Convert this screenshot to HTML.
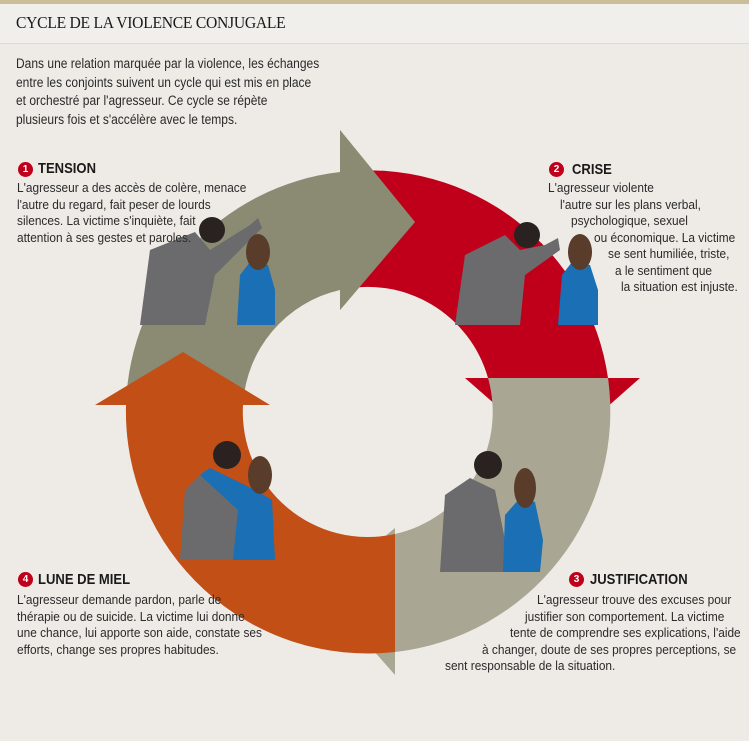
<!DOCTYPE html>
<html><head><meta charset="utf-8"><style>
body{margin:0;width:749px;height:741px;background:#eeebe6;position:relative;overflow:hidden;font-family:"Liberation Sans",sans-serif;color:#2a2a2a}
.t{position:absolute;white-space:nowrap;font-size:12.5px;line-height:16.5px;transform:scaleX(0.95);transform-origin:0 0}
.h{position:absolute;white-space:nowrap;font-weight:bold;font-size:15px;color:#1a1a1a;transform:scaleX(0.87);transform-origin:0 0}
.n{position:absolute;width:15px;height:15px;border-radius:50%;background:#c0001a;color:#fff;font:bold 10px "Liberation Sans",sans-serif;text-align:center;line-height:15px}
</style></head><body>
<div style="position:absolute;left:0;top:0;width:749px;height:4px;background:#cbbd98"></div>
<div style="position:absolute;left:0;top:4px;width:749px;height:39px;background:#f1efeb;border-bottom:1px solid #dedad2"></div>
<div style="position:absolute;left:16px;top:13px;font-family:'Liberation Serif',serif;font-size:17px;color:#1a1a1a;letter-spacing:-0.3px;transform:scaleX(0.92);transform-origin:0 0">CYCLE DE LA VIOLENCE CONJUGALE</div>
<div class="t" style="left:16px;top:55px;font-size:13.5px;line-height:18.7px;transform:scaleX(0.89)">Dans une relation marquée par la violence, les échanges<br>entre les conjoints suivent un cycle qui est mis en place<br>et orchestré par l'agresseur. Ce cycle se répète<br>plusieurs fois et s'accélère avec le temps.</div>

<svg style="position:absolute;left:0;top:0" width="749" height="741">
<path d="M126 405 A242 242 0 0 1 340 172 L340 130 L415 222 L340 310 L340 290 A125 125 0 0 0 243 405 Z" fill="#8b8b74"/>
<path d="M340 172 A242 242 0 0 1 608 378 L640 378 L553 455 L465 378 L488 378 A125 125 0 0 0 340 290 Z" fill="#c0001a"/>
<path d="M608 378 A242 242 0 0 1 395 652 L395 675 L320 590 L395 528 L395 534 A125 125 0 0 0 488 378 Z" fill="#a9a693"/>
<path d="M395 652 A242 242 0 0 1 126 405 L95 405 L183 352 L270 405 L243 405 A125 125 0 0 0 395 534 Z" fill="#c14f16"/>
<path d="M340 130 L415 222 L340 310 Z" fill="#8b8b74"/>
<g>
<path d="M140 325 L150 250 L195 232 L210 250 L250 225 L258 218 L262 228 L215 275 L205 325 Z" fill="#6b6b6d"/>
<circle cx="212" cy="230" r="13" fill="#2a2220"/>
<path d="M237 325 L240 275 L250 262 L268 265 L275 290 L275 325 Z" fill="#1a6fb5"/>
<ellipse cx="258" cy="252" rx="12" ry="18" fill="#5a3c2a"/>
</g>
<g>
<path d="M455 325 L465 255 L505 235 L520 250 L545 245 L558 238 L560 250 L525 275 L520 325 Z" fill="#6b6b6d"/>
<circle cx="527" cy="235" r="13" fill="#2a2220"/>
<path d="M558 325 L562 275 L572 262 L590 265 L598 290 L598 325 Z" fill="#1a6fb5"/>
<ellipse cx="580" cy="252" rx="12" ry="18" fill="#5a3c2a"/>
</g>
<g>
<path d="M180 560 L185 490 L205 470 L235 480 L270 520 L272 560 Z" fill="#6b6b6d"/>
<circle cx="227" cy="455" r="14" fill="#2a2220"/>
<path d="M233 560 L238 510 L200 475 L210 468 L255 490 L272 500 L275 560 Z" fill="#1a6fb5"/>
<ellipse cx="260" cy="475" rx="12" ry="19" fill="#5a3c2a"/>
</g>
<g>
<path d="M440 572 L445 495 L470 478 L495 490 L505 540 L520 572 Z" fill="#6b6b6d"/>
<circle cx="488" cy="465" r="14" fill="#2a2220"/>
<path d="M503 572 L505 515 L520 498 L535 502 L543 540 L540 572 Z" fill="#1a6fb5"/>
<ellipse cx="525" cy="488" rx="11" ry="20" fill="#5a3c2a"/>
</g>
</svg>

<div class="n" style="left:18px;top:162px">1</div>
<div class="h" style="left:38px;top:160px">TENSION</div>
<div class="t" style="left:17px;top:180px">L'agresseur a des accès de colère, menace<br>l'autre du regard, fait peser de lourds<br>silences. La victime s'inquiète, fait<br>attention à ses gestes et paroles.</div>

<div class="n" style="left:549px;top:162px">2</div>
<div class="h" style="left:572px;top:161px">CRISE</div>
<div class="t" style="left:548px;top:180px">L'agresseur violente</div>
<div class="t" style="left:560px;top:196.5px">l'autre sur les plans verbal,</div>
<div class="t" style="left:571px;top:213px">psychologique, sexuel</div>
<div class="t" style="left:594px;top:229.5px">ou économique. La victime</div>
<div class="t" style="left:608px;top:246px">se sent humiliée, triste,</div>
<div class="t" style="left:615px;top:262.5px">a le sentiment que</div>
<div class="t" style="left:621px;top:279px">la situation est injuste.</div>

<div class="n" style="left:569px;top:572px">3</div>
<div class="h" style="left:590px;top:571px">JUSTIFICATION</div>
<div class="t" style="left:537px;top:592px">L'agresseur trouve des excuses pour</div>
<div class="t" style="left:525px;top:608.5px">justifier son comportement. La victime</div>
<div class="t" style="left:510px;top:625px">tente de comprendre ses explications, l'aide</div>
<div class="t" style="left:482px;top:641.5px">à changer, doute de ses propres perceptions, se</div>
<div class="t" style="left:445px;top:658px">sent responsable de la situation.</div>

<div class="n" style="left:18px;top:572px">4</div>
<div class="h" style="left:38px;top:571px">LUNE DE MIEL</div>
<div class="t" style="left:17px;top:592px">L'agresseur demande pardon, parle de<br>thérapie ou de suicide. La victime lui donne<br>une chance, lui apporte son aide, constate ses<br>efforts, change ses propres habitudes.</div>
</body></html>
